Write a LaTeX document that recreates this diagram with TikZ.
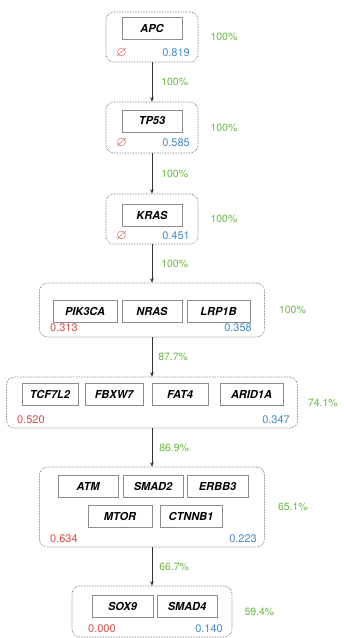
\documentclass[tikz,border=0pt]{standalone}
\usepackage{fontspec}
\usepackage{amssymb}
\setmainfont{TeX Gyre Heros}
\usetikzlibrary{positioning,arrows.meta}
\definecolor{lored}{RGB}{214,78,70}
\definecolor{hiblue}{RGB}{72,138,196}
\definecolor{pctgreen}{RGB}{104,184,64}
\begin{document}
\begin{tikzpicture}[x=1pt,y=-1pt,
	group/.style={draw=black!65, densely dotted, rounded corners=8pt, line width=0.6pt},
	gene/.style={draw=black!45, line width=0.5pt, minimum width=60pt, minimum height=22pt, inner sep=1pt, font=\fontsize{11}{12}\selectfont\bfseries\itshape},
	lo/.style={text=lored, anchor=west, inner sep=0pt, font=\fontsize{11}{12}\selectfont},
	hi/.style={text=hiblue, anchor=east, inner sep=0pt, font=\fontsize{11}{12}\selectfont},
	pct/.style={text=pctgreen, inner sep=0pt, font=\fontsize{10.5}{12}\selectfont},
	link/.style={-{Stealth[length=4.5pt,width=3.5pt]}, black!80, line width=0.5pt}]
	\useasboundingbox (0,0) rectangle (344,638);
	%
	% level 1
	\node[group, minimum width=92pt, minimum height=50pt] (g1) at (152,37) {};
	\node[gene] (apc) at (152,28.5) {APC};
	\node[lo, font=\fontsize{14}{14}\selectfont] at (116,53) {$\varnothing$};
	\node[hi] at (190,53) {0.819};
	\node[pct, right=12pt of g1] {100\%};
	%
	% level 2
	\node[group, minimum width=92pt, minimum height=51pt] (g2) at (152,127.5) {};
	\node[gene] (tp53) at (152,121) {TP53};
	\node[lo, font=\fontsize{14}{14}\selectfont] at (116,143) {$\varnothing$};
	\node[hi] at (190,143) {0.585};
	\node[pct, right=12pt of g2] {100\%};
	%
	% level 3
	\node[group, minimum width=92pt, minimum height=50pt] (g3) at (152,219) {};
	\node[gene] (kras) at (152,215) {KRAS};
	\node[lo, font=\fontsize{14}{14}\selectfont] at (116,236) {$\varnothing$};
	\node[hi] at (190,236) {0.451};
	\node[pct, right=12pt of g3] {100\%};
	%
	% level 4
	\node[group, minimum width=225pt, minimum height=54pt] (g4) at (152,310) {};
	\node[gene, minimum width=64pt] (pik3ca) at (85,311) {PIK3CA};
	\node[gene] (nras) at (152,311) {NRAS};
	\node[gene, minimum width=63pt] (lrp1b) at (218.5,311) {LRP1B};
	\node[lo] at (50,328) {0.313};
	\node[hi] at (252,328) {0.358};
	\node[pct, right=14pt of g4] {100\%};
	%
	% level 5
	\node[group, minimum width=291pt, minimum height=51pt] (g5) at (152,402.5) {};
	\node[gene, minimum width=56pt] (tcf7l2) at (50,394) {TCF7L2};
	\node[gene, minimum width=58pt] (fbxw7) at (114,394) {FBXW7};
	\node[gene, minimum width=56pt] (fat4) at (180,394) {FAT4};
	\node[gene, minimum width=63pt] (arid1a) at (251.5,394) {ARID1A};
	\node[lo] at (17,420) {0.520};
	\node[hi] at (290,420) {0.347};
	\node[pct, right=10pt of g5] {74.1\%};
	%
	% level 6
	\node[group, minimum width=225pt, minimum height=80pt] (g6) at (152,507) {};
	\node[gene] (atm) at (88,486.5) {ATM};
	\node[gene] (smad2) at (153,486.5) {SMAD2};
	\node[gene, minimum width=61pt] (erbb3) at (217.5,486.5) {ERBB3};
	\node[gene, minimum width=64pt] (mtor) at (120,516.5) {MTOR};
	\node[gene, minimum width=62pt] (ctnnb1) at (191,516.5) {CTNNB1};
	\node[lo] at (50,539) {0.634};
	\node[hi] at (257,539) {0.223};
	\node[pct, right=13pt of g6] {65.1\%};
	%
	% level 7
	\node[group, minimum width=160pt, minimum height=51pt] (g7) at (152,611.5) {};
	\node[gene, minimum width=61pt] (sox9) at (122.5,606) {SOX9};
	\node[gene] (smad4) at (187,606) {SMAD4};
	\node[lo] at (88,629) {0.000};
	\node[hi] at (223,629) {0.140};
	\node[pct, right=12pt of g7] {59.4\%};
	%
	% links
	\draw[link] (g1) -- (g2) node[pct, midway, right=9pt] {100\%};
	\draw[link] (g2) -- (g3) node[pct, midway, right=9pt] {100\%};
	\draw[link] (g3) -- (g4) node[pct, midway, right=9pt] {100\%};
	\draw[link] (g4) -- (g5) node[pct, midway, right=6pt] {87.7\%};
	\draw[link] (g5) -- (g6) node[pct, midway, right=7pt] {86.9\%};
	\draw[link] (g6) -- (g7) node[pct, midway, right=7pt] {66.7\%};
	%
\end{tikzpicture}
\end{document}
